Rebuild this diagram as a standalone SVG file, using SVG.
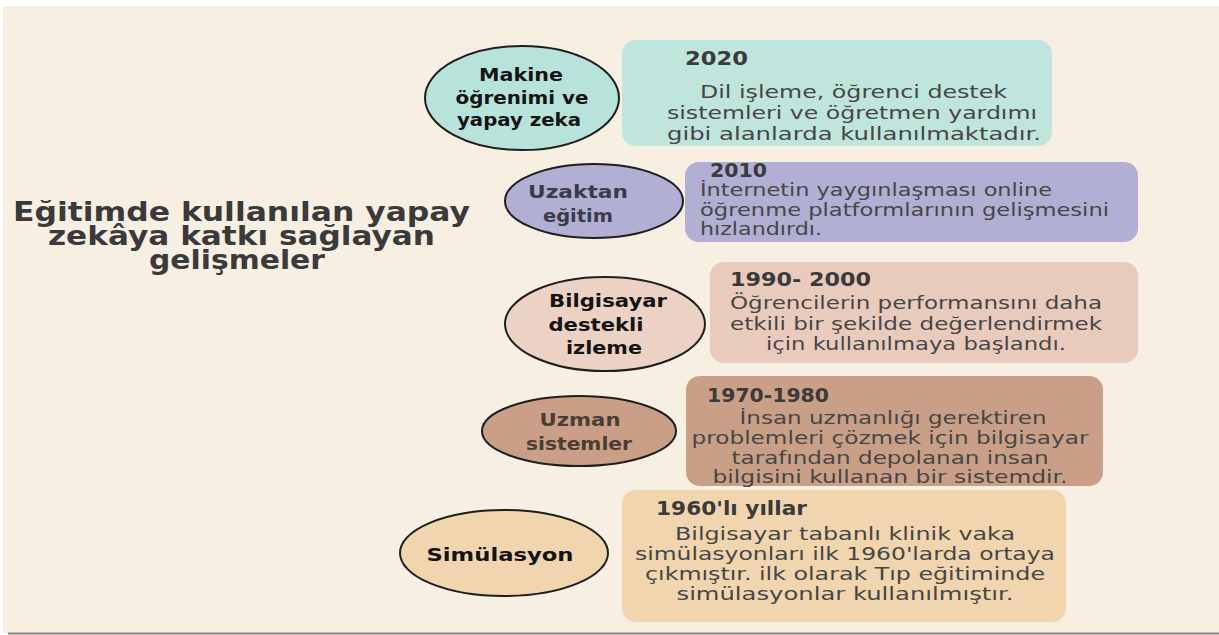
<svg xmlns="http://www.w3.org/2000/svg" width="1219" height="635" viewBox="0 0 1219 635">
<style>
.el{stroke:#1e1e1e;stroke-width:2}
text{font-family:"DejaVu Sans","Open Sans",sans-serif}
.lb{font-weight:700;font-size:17.5px;fill:#141414;text-anchor:middle}
.yr{font-weight:700;font-size:19px;fill:#3a3a3a}
.bd{font-size:18px;fill:#464646}
.c{text-anchor:middle}
.ttl{font-weight:700;font-size:26px;fill:#3a3a3a;text-anchor:middle}
</style>
<rect x="0" y="0" width="1219" height="635" fill="#ffffff"/>
<rect x="3" y="6" width="1216" height="627" fill="#f7efe1"/>
<line x1="8" y1="633.5" x2="1219" y2="633.5" stroke="#8a8478" stroke-width="2"/>
<g id="title">
<text class="ttl" x="241.5" y="221" textLength="457" lengthAdjust="spacingAndGlyphs">Eğitimde kullanılan yapay</text>
<text class="ttl" x="241.5" y="245" textLength="387" lengthAdjust="spacingAndGlyphs">zekâya katkı sağlayan</text>
<text class="ttl" x="237" y="269" textLength="176" lengthAdjust="spacingAndGlyphs">gelişmeler</text>
</g>
<g id="connectors"></g>
<g id="n2020">
<rect x="622" y="40" width="430" height="106" rx="14" fill="#bfe5dc"/>
<ellipse class="el" cx="522" cy="98" rx="97" ry="52" fill="#b7e3da"/>
<text class="lb" x="521" y="81" textLength="84" lengthAdjust="spacingAndGlyphs">Makine</text>
<text class="lb" x="522" y="104" textLength="133" lengthAdjust="spacingAndGlyphs">öğrenimi ve</text>
<text class="lb" x="519" y="126" textLength="124" lengthAdjust="spacingAndGlyphs">yapay zeka</text>
<text class="yr" x="685" y="65" textLength="63" lengthAdjust="spacingAndGlyphs">2020</text>
<text class="bd c" x="853.5" y="98" textLength="307" lengthAdjust="spacingAndGlyphs">Dil işleme, öğrenci destek</text>
<text class="bd c" x="852" y="119" textLength="370" lengthAdjust="spacingAndGlyphs">sistemleri ve öğretmen yardımı</text>
<text class="bd c" x="854" y="140" textLength="374" lengthAdjust="spacingAndGlyphs">gibi alanlarda kullanılmaktadır.</text>
</g>
<g id="n2010">
<rect x="685" y="162" width="453" height="80" rx="14" fill="#b1afd3"/>
<ellipse class="el" cx="594" cy="201" rx="89" ry="37" fill="#b1afd3"/>
<text class="lb" x="578" y="198" style="fill:#3b3b48" textLength="100" lengthAdjust="spacingAndGlyphs">Uzaktan</text>
<text class="lb" x="578" y="222" style="fill:#3b3b48" textLength="70" lengthAdjust="spacingAndGlyphs">eğitim</text>
<text class="yr" x="710" y="177" textLength="57" lengthAdjust="spacingAndGlyphs">2010</text>
<text class="bd" x="700" y="196" textLength="352" lengthAdjust="spacingAndGlyphs">İnternetin yaygınlaşması online</text>
<text class="bd" x="700" y="216" textLength="409" lengthAdjust="spacingAndGlyphs">öğrenme platformlarının gelişmesini</text>
<text class="bd" x="700" y="235" textLength="122" lengthAdjust="spacingAndGlyphs">hızlandırdı.</text>
</g>
<g id="n1990">
<rect x="710" y="262" width="428" height="101" rx="14" fill="#e9cbbd"/>
<ellipse class="el" cx="605" cy="324" rx="100" ry="47" fill="#ecd2c4"/>
<text class="lb" x="608" y="307" textLength="118" lengthAdjust="spacingAndGlyphs">Bilgisayar</text>
<text class="lb" x="596" y="331" textLength="95" lengthAdjust="spacingAndGlyphs">destekli</text>
<text class="lb" x="604" y="354" textLength="76" lengthAdjust="spacingAndGlyphs">izleme</text>
<text class="yr" x="730" y="286" textLength="141" lengthAdjust="spacingAndGlyphs">1990- 2000</text>
<text class="bd c" x="916" y="309" textLength="372" lengthAdjust="spacingAndGlyphs">Öğrencilerin performansını daha</text>
<text class="bd c" x="916" y="330" textLength="372" lengthAdjust="spacingAndGlyphs">etkili bir şekilde değerlendirmek</text>
<text class="bd c" x="916" y="350" textLength="300" lengthAdjust="spacingAndGlyphs">için kullanılmaya başlandı.</text>
</g>
<g id="n1970">
<rect x="686" y="376" width="417" height="110" rx="14" fill="#c9a087"/>
<ellipse class="el" cx="579" cy="431" rx="97" ry="35" fill="#c9a087"/>
<text class="lb" x="580" y="426" style="fill:#4a3d36" textLength="81" lengthAdjust="spacingAndGlyphs">Uzman</text>
<text class="lb" x="579" y="450" style="fill:#4a3d36" textLength="106" lengthAdjust="spacingAndGlyphs">sistemler</text>
<text class="yr" x="707" y="402" textLength="122" lengthAdjust="spacingAndGlyphs">1970-1980</text>
<text class="bd c" x="893" y="424" textLength="307" lengthAdjust="spacingAndGlyphs">İnsan uzmanlığı gerektiren</text>
<text class="bd c" x="890" y="444" textLength="397" lengthAdjust="spacingAndGlyphs">problemleri çözmek için bilgisayar</text>
<text class="bd c" x="890" y="464" textLength="317" lengthAdjust="spacingAndGlyphs">tarafından depolanan insan</text>
<text class="bd c" x="890" y="483" textLength="355" lengthAdjust="spacingAndGlyphs">bilgisini kullanan bir sistemdir.</text>
</g>
<g id="n1960">
<rect x="622" y="490" width="444" height="132" rx="14" fill="#f0d5ae"/>
<ellipse class="el" cx="504" cy="553" rx="104" ry="43" fill="#f0d5ae"/>
<text class="lb" x="500" y="561" textLength="147" lengthAdjust="spacingAndGlyphs">Simülasyon</text>
<text class="yr" x="656" y="515" textLength="151" lengthAdjust="spacingAndGlyphs">1960'lı yıllar</text>
<text class="bd c" x="845" y="540" textLength="340" lengthAdjust="spacingAndGlyphs">Bilgisayar tabanlı klinik vaka</text>
<text class="bd c" x="845" y="560" textLength="420" lengthAdjust="spacingAndGlyphs">simülasyonları ilk 1960'larda ortaya</text>
<text class="bd c" x="845" y="580" textLength="400" lengthAdjust="spacingAndGlyphs">çıkmıştır. ilk olarak Tıp eğitiminde</text>
<text class="bd c" x="845" y="600" textLength="337" lengthAdjust="spacingAndGlyphs">simülasyonlar kullanılmıştır.</text>
</g>
</svg>
